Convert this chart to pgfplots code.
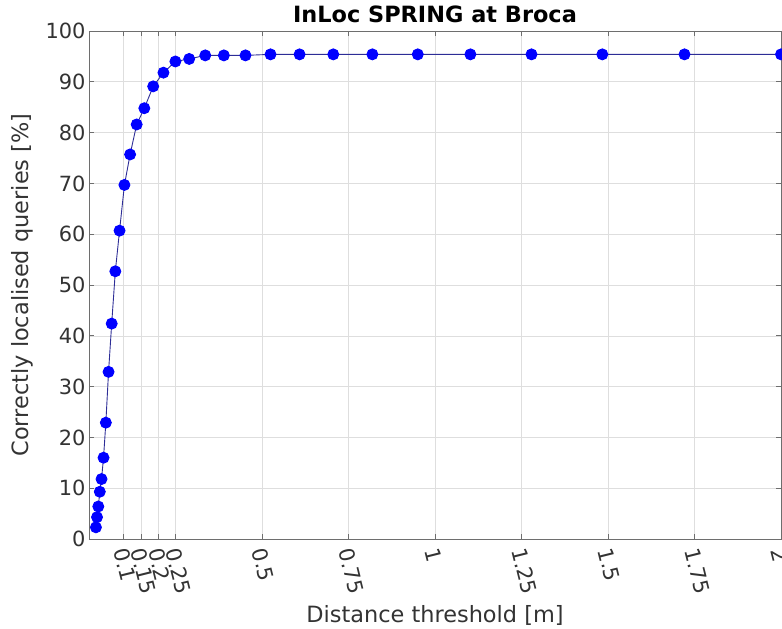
\documentclass[border=0pt]{standalone}
\usepackage{fontspec}
\setmainfont{DejaVu Sans}
\usepackage{pgfplots}
\pgfplotsset{compat=1.18}
\definecolor{markblue}{RGB}{0,0,255}
\definecolor{lineblue}{RGB}{45,45,150}
\definecolor{gridgray}{RGB}{222,222,222}
\definecolor{boxgray}{RGB}{110,110,110}

\pgfplotstableread{
x y
0.0200 2.3
0.0232 4.3
0.0269 6.4
0.0312 9.3
0.0362 11.8
0.0420 16.0
0.0487 22.9
0.0565 32.9
0.0656 42.4
0.0761 52.7
0.0883 60.7
0.1024 69.7
0.1188 75.7
0.1378 81.6
0.1599 84.8
0.1855 89.1
0.2152 91.8
0.2497 94.0
0.2896 94.5
0.3360 95.2
0.3898 95.2
0.4522 95.2
0.5246 95.4
0.6086 95.4
0.7060 95.4
0.8190 95.4
0.9502 95.4
1.1023 95.4
1.2789 95.4
1.4836 95.4
1.7211 95.4
2.0000 95.4
}\springdata

\begin{document}
\begin{tikzpicture}
\begin{axis}[
  scale only axis,
  width=692bp, height=508bp,
  xmin=0, xmax=2, ymin=0, ymax=100,
  xtick={0.1,0.15,0.2,0.25,0.5,0.75,1,1.25,1.5,1.75,2},
  xticklabels={0.1,0.15,0.2,0.25,0.5,0.75,1,1.25,1.5,1.75,2},
  ytick={0,10,...,100},
  grid=major,
  major grid style={gridgray, line width=0.6pt},
  axis line style={boxgray, line width=0.8pt},
  every tick/.style={boxgray, line width=0.8pt},
  major tick length=5bp,
  tick align=inside,
  /pgf/number format/assume math mode=true,
  yticklabel style={font=\fontsize{21}{24}\selectfont, text=black!80},
  xticklabel style={font=\fontsize{21}{24}\selectfont, text=black!80, rotate=-76, anchor=west, xshift=5bp, yshift=-5bp},
  title={\textbf{InLoc SPRING at Broca}},
  title style={at={(axis description cs:0.5,1)}, anchor=base, yshift=3bp, font=\fontsize{22.5}{26}\selectfont},
  xlabel={Distance threshold [m]},
  xlabel style={at={(axis description cs:0.5,0)}, anchor=base, yshift=-83bp, font=\fontsize{22.5}{26}\selectfont, text=black!80},
  ylabel={Correctly localised queries [\%]},
  ylabel style={at={(axis description cs:0,0.5)}, anchor=center, yshift=67bp, font=\fontsize{22.5}{26}\selectfont, text=black!80},
]
\addplot[lineblue, line width=0.9pt, mark=*, mark size=5.5bp,
  mark options={markblue, fill=markblue}] table[x=x, y=y] {\springdata};
\end{axis}
\pgfresetboundingbox
\path[use as bounding box] ([xshift=-89bp,yshift=-90bp]current axis.south west)
  rectangle ([xshift=1bp,yshift=31bp]current axis.north east);
\end{tikzpicture}
\end{document}
